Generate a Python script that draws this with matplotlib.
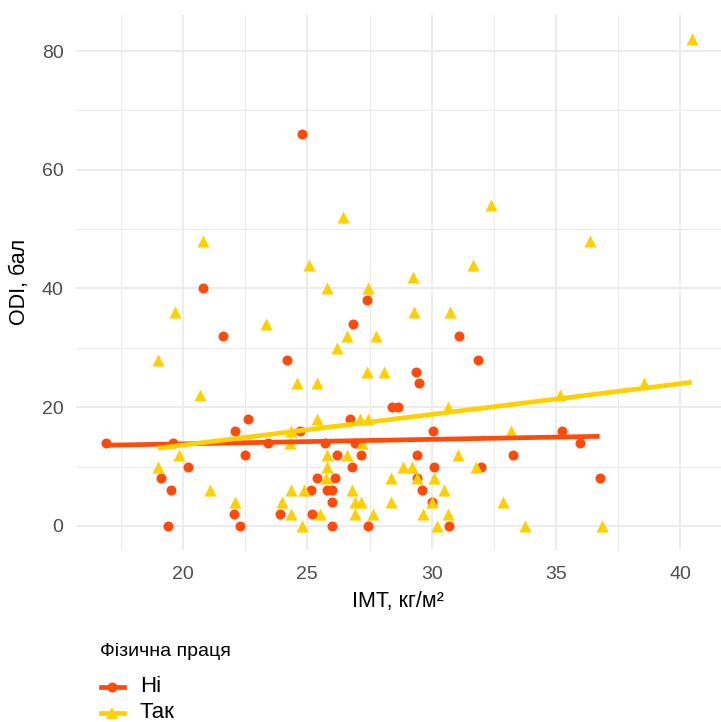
import numpy as np
import matplotlib
matplotlib.use('Agg')
import matplotlib.pyplot as plt
from matplotlib.lines import Line2D

plt.rcParams['font.family'] = ['Liberation Sans', 'DejaVu Sans']

# BMI (kg/m2) and ODI score, split by physical work
no_x = [16.9, 19.6, 23.4, 21.6, 24.2, 22.6, 22.1, 24.7, 22.5, 20.2, 19.1,
        19.5, 25.15, 22.05, 23.9, 19.4, 22.3, 25.2, 27.4, 26.85, 29.35, 29.5,
        28.4, 28.65, 26.7, 25.7, 26.9, 26.2, 27.15, 29.4, 26.8, 25.4, 26.1,
        29.4, 25.8, 26.0, 29.6, 26.0, 26.0, 27.45, 31.1, 31.85, 30.05, 35.25,
        35.95, 33.25, 30.1, 32.0, 36.75, 30.7, 24.8, 20.8, 30.0]
no_y = [14, 14, 14, 32, 28, 18, 16, 16, 12, 10, 8,
        6, 6, 2, 2, 0, 0, 2, 38, 34, 26, 24,
        20, 20, 18, 14, 14, 12, 12, 12, 10, 8, 8,
        8, 6, 6, 6, 4, 0, 0, 32, 28, 16, 16,
        14, 12, 10, 10, 8, 0, 66, 40, 4]

yes_x = [19.7, 23.35, 19.0, 24.6, 20.7, 24.35, 24.3, 19.85, 19.0, 21.1, 22.1,
         24.0, 24.35, 24.85, 24.35, 24.8, 29.3, 26.6, 27.75, 26.2, 27.4, 28.1,
         25.4, 25.4, 27.1, 27.45, 27.2, 25.8, 26.6, 25.8, 28.85, 29.2, 25.75,
         28.35, 29.4, 26.8, 26.9, 27.15, 28.35, 29.65, 25.5, 26.9, 27.65,
         30.75, 30.65, 33.2, 31.05, 31.8, 30.1, 30.5, 30.0, 32.85, 30.65,
         30.2, 33.75, 36.85, 38.55, 35.15, 40.45, 32.4, 26.45, 20.8, 36.35,
         25.05, 31.65, 29.25, 25.8, 27.45]
yes_y = [36, 34, 28, 24, 22, 16, 14, 12, 10, 6, 4,
         4, 6, 6, 2, 0, 36, 32, 32, 30, 26, 26,
         24, 18, 18, 18, 14, 12, 12, 10, 10, 10, 8,
         8, 8, 6, 4, 4, 4, 2, 2, 2, 2,
         36, 20, 16, 12, 10, 8, 6, 4, 4, 2,
         0, 0, 0, 24, 22, 82, 54, 52, 48, 48,
         44, 44, 42, 40, 40]

# linear trend per group (end points of the fitted lines)
no_fit_x = [16.9, 36.75]
no_fit_y = [13.6, 15.1]
yes_fit_x = [19.0, 40.45]
yes_fit_y = [13.1, 24.2]

groups = ['Ні', 'Так']
x_ticks = [20, 25, 30, 35, 40]
y_ticks = [0, 20, 40, 60, 80]

RED = '#FF4A0A'
YELLOW = '#FFD000'
GRID = '#EBEBEB'
TXT = '#4D4D4D'

W, H = 721, 722
fig = plt.figure(figsize=(W / 100, H / 100), dpi=100)
ax = fig.add_axes([76 / W, 1 - 550.3 / H, 645 / W, 535.5 / H])

ax.scatter(no_x, no_y, s=52, marker='o', color=RED, linewidths=0, zorder=3)
ax.scatter(yes_x, yes_y, s=76, marker='^', color=YELLOW, linewidths=0,
           zorder=3)

ax.plot(no_fit_x, no_fit_y, color=RED, lw=3.4, solid_capstyle='butt',
        zorder=4)
ax.plot(yes_fit_x, yes_fit_y, color=YELLOW, lw=3.4, solid_capstyle='butt',
        zorder=4)

ax.set_xlim(15.70, 41.63)
ax.set_ylim(-4.1, 86.1)
ax.set_xticks(x_ticks)
ax.set_yticks(y_ticks)
ax.set_xticks(np.arange(17.5, 40, 5), minor=True)
ax.set_yticks([10, 30, 50, 70], minor=True)
ax.grid(which='major', color=GRID, lw=1.3)
ax.grid(which='minor', color=GRID, lw=0.75)
ax.set_axisbelow(True)
for s in ax.spines.values():
    s.set_visible(False)
ax.tick_params(which='both', length=0, labelsize=14, labelcolor=TXT)
ax.tick_params(axis='x', pad=11)
ax.tick_params(axis='y', pad=9)

fig.text(398 / W, 1 - 601 / H, 'IMT, кг/м²', ha='center', va='center',
         fontsize=15.5)
fig.text(20 / W, 1 - 282 / H, 'ODI, бал', ha='center', va='center',
         rotation=90, fontsize=15.5)

# legend drawn by hand below the panel
fig.text(100 / W, 1 - 652 / H, 'Фізична праця', ha='left', va='center',
         fontsize=14)
for label, col, mk, ms, yp in [(groups[0], RED, 'o', 7.2, 687),
                                (groups[1], YELLOW, '^', 8.6, 713)]:
    yf = 1 - yp / H
    fig.add_artist(Line2D([101 / W, 124 / W], [yf, yf], color=col, lw=3.4,
                          transform=fig.transFigure))
    fig.add_artist(Line2D([112.5 / W], [yf], marker=mk, markersize=ms,
                          color=col, markeredgewidth=0,
                          transform=fig.transFigure))
    fig.text(140 / W, yf, label, ha='left', va='center', fontsize=16)

fig.savefig('out.png', dpi=100)
